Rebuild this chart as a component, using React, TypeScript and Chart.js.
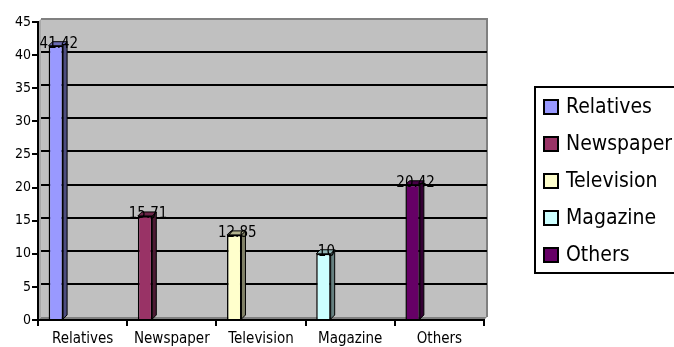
import React, { useEffect, useRef } from 'react';
import { Chart, registerables } from 'chart.js';

Chart.register(...registerables);

const categories = ['Relatives', 'Newspaper', 'Television', 'Magazine', 'Others'];
const values = [41.42, 15.71, 12.85, 10, 20.42];
const valueLabels = ['41.42', '15.71', '12.85', '10', '20.42'];
const barColors = ['#9999FF', '#993366', '#FFFFCC', '#CCFFFF', '#660066'];
const yMin = 0;
const yMax = 45;
const yStep = 5;

const FONT = "'DejaVu Sans Condensed', 'Liberation Sans', sans-serif";

function darken(hex: string, f: number): string {
  const n = parseInt(hex.slice(1), 16);
  const r = Math.round(((n >> 16) & 255) * f);
  const g = Math.round(((n >> 8) & 255) * f);
  const b = Math.round((n & 255) * f);
  return `rgb(${r},${g},${b})`;
}

function poly(ctx: CanvasRenderingContext2D, pts: number[][]) {
  ctx.beginPath();
  ctx.moveTo(pts[0][0], pts[0][1]);
  for (let i = 1; i < pts.length; i++) ctx.lineTo(pts[i][0], pts[i][1]);
  ctx.closePath();
}

const wallPlugin = {
  id: 'wall3d',
  beforeDraw(chart: any) {
    const { ctx, chartArea, scales } = chart;
    const { left, right, top, bottom } = chartArea;
    const y = scales.y;
    const d = 3;
    ctx.save();
    ctx.fillStyle = '#a8a8a8';
    poly(ctx, [[left, top], [left + d, top - d], [left + d, bottom - d], [left, bottom]]);
    ctx.fill();
    ctx.fillStyle = '#c0c0c0';
    ctx.fillRect(left + d, top - d, right - left, bottom - top);
    ctx.strokeStyle = '#808080';
    ctx.lineWidth = 2;
    ctx.beginPath();
    ctx.moveTo(left + d, top - d);
    ctx.lineTo(right + d, top - d);
    ctx.lineTo(right + d, bottom - d);
    ctx.stroke();
    ctx.fillStyle = '#808080';
    poly(ctx, [[left, bottom], [left + d, bottom - d], [right + d, bottom - d], [right, bottom]]);
    ctx.fill();
    ctx.strokeStyle = '#000';
    ctx.lineWidth = 2;
    y.ticks.forEach((t: any) => {
      if (t.value <= yMin || t.value >= yMax) return;
      const py = Math.round(y.getPixelForValue(t.value) - d);
      ctx.beginPath();
      ctx.moveTo(left + d, py);
      ctx.lineTo(right + d, py);
      ctx.stroke();
    });
    ctx.restore();
  },
  afterDatasetsDraw(chart: any) {
    const { ctx } = chart;
    const meta = chart.getDatasetMeta(0);
    const D = 4;
    ctx.save();
    meta.data.forEach((el: any, i: number) => {
      const { x, y, base, width } = el.getProps(['x', 'y', 'base', 'width'], true);
      const l = x - width / 2;
      const r = x + width / 2;
      const col = barColors[i];
      ctx.lineWidth = 1;
      ctx.strokeStyle = '#000';
      ctx.fillStyle = darken(col, 0.5);
      poly(ctx, [[r, y], [r + D, y - D], [r + D, base - D], [r, base]]);
      ctx.fill();
      ctx.stroke();
      ctx.fillStyle = darken(col, 0.7);
      poly(ctx, [[l, y], [l + D, y - D], [r + D, y - D], [r, y]]);
      ctx.fill();
      ctx.stroke();
      ctx.fillStyle = '#000';
      ctx.font = `15px ${FONT}`;
      ctx.textAlign = 'center';
      ctx.textBaseline = 'alphabetic';
      ctx.fillText(valueLabels[i], x + D / 2 + 1, y + 2.5);
    });
    ctx.restore();
  },
  afterDraw(chart: any) {
    const { ctx } = chart;
    const lx = 535;
    const ly = 87;
    const lh = 186;
    ctx.save();
    ctx.strokeStyle = '#000';
    ctx.lineWidth = 2;
    ctx.strokeRect(lx, ly, 200, lh);
    ctx.font = `21px ${FONT}`;
    ctx.textAlign = 'left';
    ctx.textBaseline = 'middle';
    chart.data.labels.forEach((lab: string, i: number) => {
      const cy = 107 + i * 37;
      ctx.fillStyle = barColors[i];
      ctx.fillRect(544, cy - 7, 14, 14);
      ctx.strokeStyle = '#000';
      ctx.lineWidth = 2;
      ctx.strokeRect(544, cy - 7, 14, 14);
      ctx.fillStyle = '#000';
      ctx.fillText(lab, 566, cy + 1);
    });
    ctx.restore();
  },
};

export default function App() {
  const ref = useRef<HTMLCanvasElement>(null);
  useEffect(() => {
    document.body.style.margin = '0';
    const canvas = ref.current!;
    const empty = categories.map(() => null);
    const chart = new Chart(canvas, {
      type: 'bar',
      data: {
        labels: categories,
        datasets: [
          {
            label: 'Share',
            data: values,
            backgroundColor: barColors,
            borderColor: '#000',
            borderWidth: 1.5,
          },
          { label: 'pad1', data: empty as any, backgroundColor: 'transparent' },
          { label: 'pad2', data: empty as any, backgroundColor: 'transparent' },
        ],
      },
      options: {
        responsive: false,
        animation: false,
        events: [],
        layout: { padding: { left: 14, top: 22, right: 190, bottom: -6 } },
        datasets: { bar: { categoryPercentage: 0.9, barPercentage: 0.54 } },
        plugins: { legend: { display: false }, tooltip: { enabled: false } },
        scales: {
          x: {
            offset: true,
            grid: {
              offset: true,
              drawOnChartArea: false,
              drawTicks: true,
              tickLength: 6,
              color: '#000',
              lineWidth: 2,
            },
            border: { display: true, color: '#000', width: 2 },
            ticks: { color: '#000', font: { family: FONT, size: 15, lineHeight: 1 }, padding: 6, maxRotation: 0 },
          },
          y: {
            min: yMin,
            max: yMax,
            grid: {
              drawOnChartArea: false,
              drawTicks: true,
              tickLength: 6,
              color: '#000',
              lineWidth: 2,
            },
            border: { display: true, color: '#000', width: 2 },
            ticks: { stepSize: yStep, color: '#000', font: { family: FONT, size: 14 }, padding: 1 },
          },
        },
      },
      plugins: [wallPlugin],
    });
    return () => chart.destroy();
  }, []);
  return (
    <div style={{ width: 674, height: 347 }}>
      <canvas ref={ref} width={674} height={347} style={{ display: 'block' }} />
    </div>
  );
}
